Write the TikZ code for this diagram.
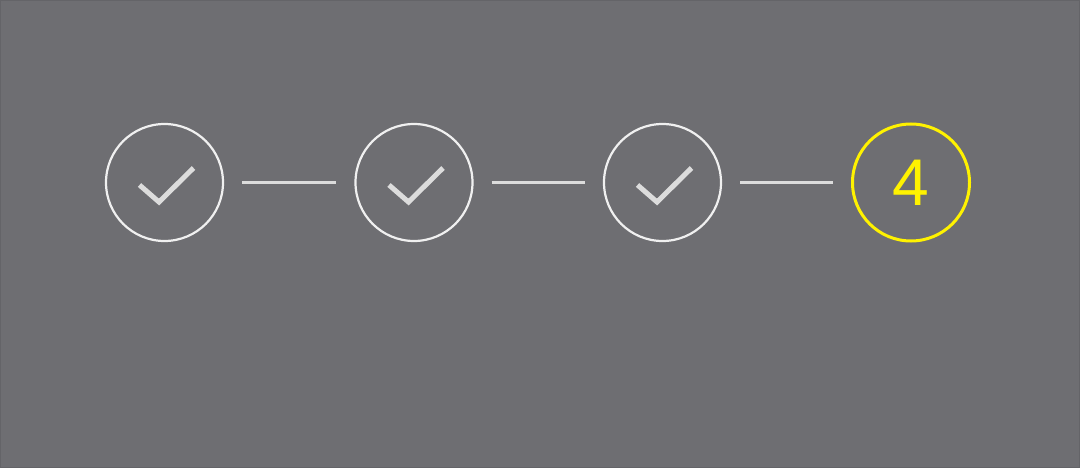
\documentclass[tikz,border=0pt]{standalone}
\usepackage{fontspec}
\setsansfont{Liberation Sans}
\definecolor{bg}{RGB}{110,110,114}
\definecolor{bgedge}{RGB}{100,100,104}
\definecolor{ringc}{RGB}{240,240,240}
\definecolor{tickc}{RGB}{220,220,220}
\definecolor{stepyellow}{RGB}{255,242,0}
\begin{document}
\begin{tikzpicture}[x=1pt,y=-1pt,
  donering/.style={circle,draw=ringc,line width=2.2pt,minimum size=117pt,inner sep=0pt},
  currentring/.style={circle,draw=stepyellow,line width=3pt,minimum size=117pt,inner sep=0pt,
    text=stepyellow,font=\sffamily\fontsize{66}{66}\selectfont},
  joinline/.style={draw=tickc,line width=2.5pt,shorten <=18pt,shorten >=18pt},
  tick/.style={draw=tickc,line width=5pt}]
\fill[bg] (0,0) rectangle (1080,468);
\draw[bgedge,line width=1pt] (0.5,0.5) rectangle (1079.5,467.5);
\useasboundingbox (0,0) rectangle (1080,468);
\node[donering] (c1) at (164.5,182.5) {};
\node[donering] (c2) at (414,182.5) {};
\node[donering] (c3) at (662.5,182.5) {};
\node[currentring] (c4) at (911,182.5) {4};
\foreach \c in {c1,c2,c3}{
  \draw[tick,shift={(\c.center)}] (-25,2.5) -- (-5.5,19.5) -- (29,-14.5);
}
\draw[joinline] (c1) -- (c2);
\draw[joinline] (c2) -- (c3);
\draw[joinline] (c3) -- (c4);
\end{tikzpicture}
\end{document}
